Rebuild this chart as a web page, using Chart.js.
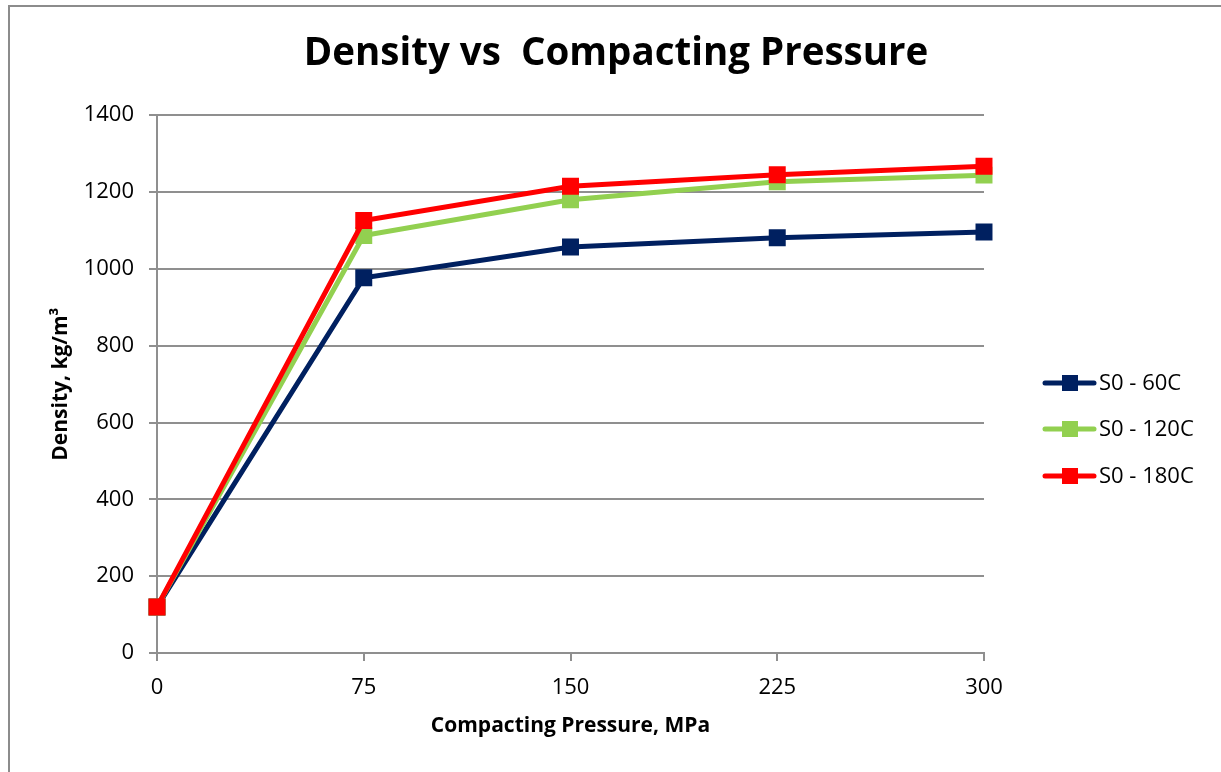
<!DOCTYPE html>
<html>
<head>
<meta charset="utf-8">
<script src="https://cdn.jsdelivr.net/npm/chart.js@4/dist/chart.umd.min.js"></script>
<style>
  html, body { margin: 0; padding: 0; background: #fff; overflow: hidden; }
  #wrap { position: relative; width: 1221px; height: 772px; overflow: hidden; }
  #frame { position: absolute; left: 8px; top: 5px; width: 1300px; height: 900px; border-left: 2px solid #8c8c8c; border-top: 2px solid #8c8c8c; pointer-events: none; }
</style>
</head>
<body>
<div id="wrap">
  <canvas id="densityChart" width="1221" height="772"></canvas>
  <div id="frame"></div>
</div>
<script>
// dữ liệu
var pressures = ["0", "75", "150", "225", "300"];
var s0_60C = [120, 977, 1057, 1081, 1096];
var s0_120C = [120, 1087, 1180, 1227, 1244];
var s0_180C = [120, 1126, 1215, 1245, 1267];
var yTicks = [0, 200, 400, 600, 800, 1000, 1200, 1400];

var FONT = "'Open Sans', 'Liberation Sans', sans-serif";
var GRID = "#8f8f8f";

// legend vẽ tay: đường + ô vuông như Excel
var excelLegend = {
    id: "excelLegend",
    afterLayout: function (chart) {
        // căn giữa tiêu đề theo cả khung (không chỉ vùng biểu đồ)
        if (chart.titleBlock) {
            chart.titleBlock.left = 11;
            chart.titleBlock.right = 1221;
        }
    },
    afterDraw: function (chart) {
        var ctx = chart.ctx;
        var x0 = 1043, ys = [383, 429, 476];
        chart.data.datasets.forEach(function (ds, i) {
            var y = ys[i];
            ctx.save();
            ctx.strokeStyle = ds.borderColor;
            ctx.lineWidth = 5;
            ctx.lineCap = "round";
            ctx.beginPath();
            ctx.moveTo(x0 + 2, y);
            ctx.lineTo(x0 + 51, y);
            ctx.stroke();
            ctx.fillStyle = ds.borderColor;
            ctx.fillRect(x0 + 19, y - 8, 16, 16);
            ctx.fillStyle = "#000";
            ctx.font = "22px " + FONT;
            ctx.textBaseline = "middle";
            ctx.fillText(ds.label, x0 + 56, y + 1);
            ctx.restore();
        });
    }
};

document.addEventListener("DOMContentLoaded", function () {
    var ctx = document.getElementById("densityChart");
    new Chart(ctx, {
        type: "line",
        data: {
            labels: pressures,
            datasets: [
                { label: "S0 - 60C", data: s0_60C, borderColor: "#002060", order: 3 },
                { label: "S0 - 120C", data: s0_120C, borderColor: "#92D050", order: 2 },
                { label: "S0 - 180C", data: s0_180C, borderColor: "#FF0000", order: 1 }
            ].map(function (d) {
                d.backgroundColor = d.borderColor;
                d.borderWidth = 5;
                d.tension = 0;
                d.pointStyle = "rect";
                d.pointRadius = 12;
                d.pointHoverRadius = 12;
                d.pointBorderWidth = 0;
                d.pointBackgroundColor = d.borderColor;
                return d;
            })
        },
        options: {
            responsive: false,
            animation: false,
            layout: { padding: { left: 0, right: 237, top: 1, bottom: 0 } },
            scales: {
                x: {
                    offset: false,
                    grid: { drawOnChartArea: false, drawTicks: true, tickLength: 8, color: GRID, lineWidth: 2 },
                    border: { display: true, color: GRID, width: 2 },
                    ticks: { color: "#000", font: { family: FONT, size: 22 }, padding: 14, maxRotation: 0 },
                    title: { display: true, text: "Compacting Pressure, MPa", color: "#000",
                             font: { family: FONT, size: 21, weight: "bold" }, padding: { top: 0, bottom: 33 } },
                    afterFit: function (scale) { scale.height = 119; }
                },
                y: {
                    min: 0,
                    max: 1400,
                    afterBuildTicks: function (scale) {
                        scale.ticks = yTicks.map(function (v) { return { value: v }; });
                    },
                    grid: { drawOnChartArea: true, drawTicks: true, tickLength: 8, color: GRID, lineWidth: 2 },
                    border: { display: true, color: GRID, width: 2 },
                    ticks: { color: "#000", font: { family: FONT, size: 22 }, padding: 15,
                             callback: function (value) { return String(value); } },
                    title: { display: true, text: "Density, kg/m³", color: "#000",
                             font: { family: FONT, size: 21, weight: "bold" }, padding: { top: 48, bottom: 0 } },
                    afterFit: function (scale) { scale.width = 157; }
                }
            },
            plugins: {
                legend: { display: false },
                tooltip: { enabled: false },
                title: {
                    display: true,
                    text: "Density vs  Compacting Pressure",
                    color: "#000",
                    font: { family: FONT, size: 38.5, weight: "bold" },
                    padding: { top: 30, bottom: 38 }
                }
            }
        },
        plugins: [excelLegend]
    });
});
</script>
</body>
</html>
